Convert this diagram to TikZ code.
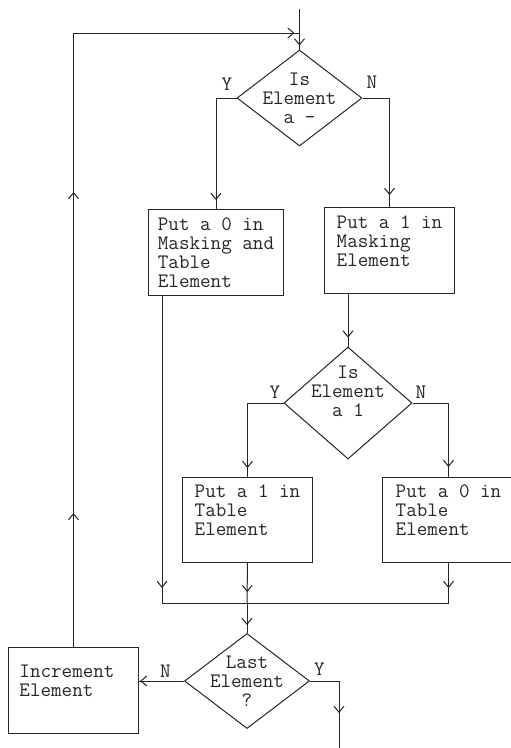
\documentclass[tikz,border=0pt]{standalone}
\usepackage{fontspec}
\usetikzlibrary{arrows.meta,positioning,shapes.geometric,decorations.markings}
\newcommand{\tipus}{\ttfamily\fontsize{20.5}{19}\selectfont}
\tikzset{
  doboz/.style={draw,rectangle,line width=1pt,anchor=north west,inner sep=0pt,
                minimum width=130pt,minimum height=86pt,align=left,font=\tipus},
  dont/.style={draw,diamond,line width=1pt,inner sep=0pt,minimum width=125pt,minimum height=96pt},
  dszoveg/.style={align=center,font=\tipus,inner sep=0pt},
  jel/.style={font=\tipus,inner sep=0pt},
  vonal/.style={line width=1pt},
  hegy/.style={postaction={decorate},decoration={markings,
               mark=at position #1 with {\arrow{Straight Barb[length=6pt,width=10pt,line width=1pt]}}}},
  hegy/.default=-9pt,
}

\begin{document}
\begin{tikzpicture}[x=1pt,y=-1pt,black!85]
  \useasboundingbox (0,0) rectangle (511,748);

  % donteseket
  \node[dont,label={[dszoveg]center:{Is\\Element\\a -}}] (d1) at (299.5,98) {};
  \node[dont,minimum width=128pt,minimum height=112pt,
        label={[dszoveg,yshift=12pt]center:{Is\\Element\\a 1}}] (d2) at (348,403) {};
  \node[dont,minimum height=95pt,label={[dszoveg]center:{Last\\Element\\?}}] (d3) at (247,681) {};

  % dobozok
  \node[doboz,minimum width=135pt] (b1) at (148,209) {Put a 0 in\\Masking and\\Table\\Element};
  \node[doboz] (b2) at (324,207) {Put a 1 in\\Masking\\Element\\\mbox{}};
  \node[doboz,minimum height=85pt] (b3) at (182,477) {Put a 1 in\\Table\\Element\\\mbox{}};
  \node[doboz,minimum width=132pt,minimum height=85pt] (b4) at (382,477) {Put a 0 in\\Table\\Element\\\mbox{}};
  \node[doboz,text width=108pt] (b5) at (8,647) {Increment\\Element\\\mbox{}};

  % Y / N
  \node[jel,above left=7pt and 4pt of d1.west] (y1) {Y};
  \node[jel,above right=9pt and 4pt of d1.east] (n1) {N};
  \node[jel,above left=4pt and 3pt of d2.west] (y2) {Y};
  \node[jel,above right=4pt and 3pt of d2.east] (n2) {N};
  \node[jel,above left=3pt and 13pt of d3.west] (n3) {N};
  \node[jel,above right=5pt and 4pt of d3.east] (y3) {Y};

  \coordinate (be) at (299.5,9);
  \coordinate (csat) at (299.5,33);
  \coordinate (m1) at (162,603);
  \coordinate (m2) at (247,603);
  \coordinate (ki) at (339,752);

  % vonalak
  \draw[vonal,hegy=-4pt] (be) -- (d1.north);
  \draw[vonal,hegy] (d1.west) -| (b1.north);
  \draw[vonal,hegy=-12pt] (d1.east) -| (b2.north);
  \draw[vonal,hegy] (d2.north |- b2.south) -- (d2.north);
  \draw[vonal,hegy] (d2.west) -| (b3.north);
  \draw[vonal,hegy=-10pt] (d2.east) -| (b4.north);
  \draw[vonal,hegy=-15pt] (b1.south -| m1) -- (m1);
  \draw[vonal,hegy=-11pt] (b3.south) -- (m2);
  \draw[vonal,hegy=-15pt] (b4.south) -- (b4.south |- m1);
  \draw[vonal] (m1) -- (b4.south |- m1);
  \draw[vonal,hegy=-8pt] (m2) -- (d3.north);
  \draw[vonal,hegy=-1pt] (d3.west) -- (d3.west -| b5.east);
  \draw[vonal,hegy=61pt] (d3.east) -| (ki);
  \draw[vonal,postaction={decorate},decoration={markings,
        mark=at position 134pt with {\arrow{Straight Barb[length=6pt,width=10pt,line width=1pt]}},
        mark=at position 455pt with {\arrow{Straight Barb[length=6pt,width=10pt,line width=1pt]}},
        mark=at position -5pt with {\arrow{Straight Barb[length=6pt,width=10pt,line width=1pt]}}}]
    (b5.north) |- (csat);
\end{tikzpicture}
\end{document}
